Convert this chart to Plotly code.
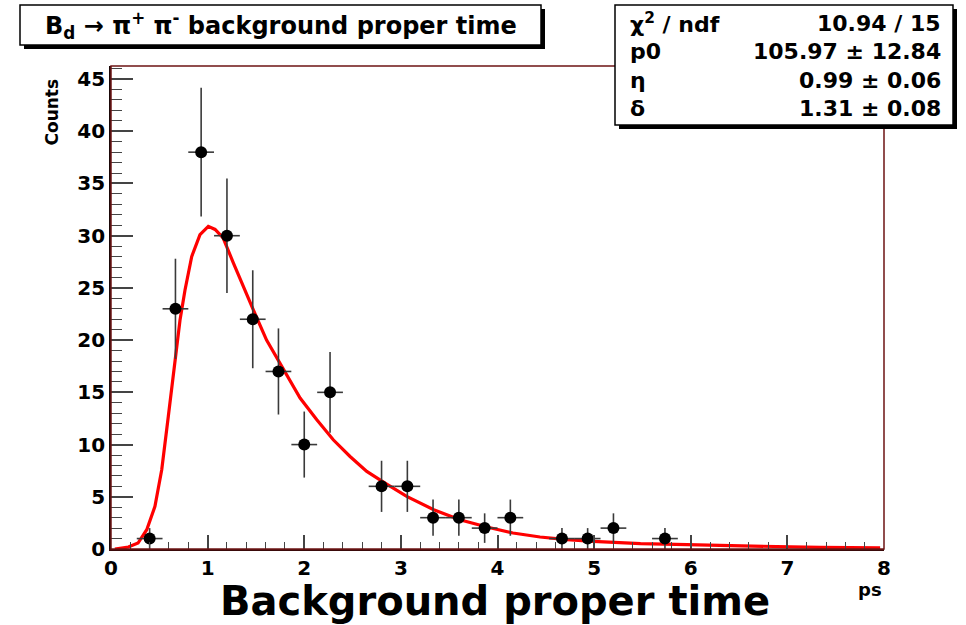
import plotly.graph_objects as go

# ---- data ----
bin_centers = [0.133, 0.400, 0.667, 0.933, 1.200, 1.467, 1.733, 2.000, 2.267, 2.533,
               2.800, 3.067, 3.333, 3.600, 3.867, 4.133, 4.400, 4.667, 4.933, 5.200,
               5.467, 5.733, 6.000, 6.267, 6.533, 6.800, 7.067, 7.333, 7.600, 7.867]
counts = [0, 1, 23, 38, 30, 22, 17, 10, 15, 0,
          6, 6, 3, 3, 2, 3, 0, 1, 1, 2,
          0, 1, 0, 0, 0, 0, 0, 0, 0, 0]
half_bin = 0.1333

fit_x = [0.04, 0.18, 0.28, 0.37, 0.455, 0.525, 0.593, 0.663, 0.714, 0.766, 0.835,
         0.921, 1.007, 1.077, 1.16, 1.266, 1.37, 1.473, 1.61, 1.784, 1.957, 2.13,
         2.30, 2.474, 2.647, 2.82, 2.99, 3.06, 3.34, 3.61, 3.89, 4.16, 4.44, 4.72,
         4.99, 5.27, 5.48, 5.96, 6.65, 7.34, 7.96]
fit_y = [0.0, 0.19, 0.57, 1.85, 4.08, 7.59, 12.69, 18.1, 21.9, 24.8, 28.0,
         30.1, 30.9, 30.6, 29.8, 27.4, 25.1, 22.9, 20.0, 17.2, 14.45, 12.37,
         10.46, 8.86, 7.43, 6.4, 5.4, 5.03, 3.76, 2.80, 2.1, 1.53, 1.15, 0.89,
         0.73, 0.57, 0.51, 0.41, 0.25, 0.15, 0.10]

title_text = "B<sub>d</sub> \u2192 \u03c0<sup>+</sup> \u03c0<sup>-</sup> background proper time"
stat_labels = ["\u03c7<sup>2</sup> / ndf", "p0", "\u03b7", "\u03b4"]
stat_values = ["10.94 / 15", "105.97 \u00b1 12.84", "0.99 \u00b1 0.06", "1.31 \u00b1 0.08"]
x_title = "Background proper time"
x_unit = "ps"
y_title = "Counts"

# ---- layout geometry (pixels) ----
W, H = 966, 625
L, R, T, B = 111, 82, 66, 76
PW, PH = W - L - R, H - T - B


def px(xp):
    return (xp - L) / PW


def py(yp):
    return (H - B - yp) / PH


FONT = "DejaVu Sans"

pts_x = [x for x, c in zip(bin_centers, counts) if c > 0]
pts_y = [c for c in counts if c > 0]
pts_e = [c ** 0.5 for c in pts_y]

fig = go.Figure()
fig.add_trace(go.Scatter(
    x=fit_x, y=fit_y, mode="lines",
    line=dict(color="#ff0000", width=3.2),
    hoverinfo="skip", showlegend=False, cliponaxis=True))
fig.add_trace(go.Scatter(
    x=pts_x, y=pts_y, mode="markers",
    marker=dict(color="black", size=12),
    error_y=dict(type="data", array=pts_e, color="#3a3a3a", thickness=1.6, width=0),
    error_x=dict(type="constant", value=half_bin, color="#3a3a3a", thickness=1.6, width=0),
    showlegend=False))

shapes = []
# frame
shapes.append(dict(type="rect", xref="paper", yref="paper", x0=0, y0=0, x1=1, y1=1,
                   line=dict(color="#6e1414", width=1.5), layer="above"))


def box(x0, y0, x1, y1, sh=4):
    shapes.append(dict(type="rect", xref="paper", yref="paper",
                       x0=px(x0 + sh), x1=px(x1 + sh), y0=py(y1 + sh), y1=py(y0 + sh),
                       line=dict(width=0), fillcolor="black", layer="above"))
    shapes.append(dict(type="rect", xref="paper", yref="paper",
                       x0=px(x0), x1=px(x1), y0=py(y1), y1=py(y0),
                       line=dict(width=1.5, color="black"), fillcolor="white", layer="above"))


box(20, 5, 541, 45)
box(615, 5, 953, 125)

annotations = []
annotations.append(dict(xref="paper", yref="paper", x=px(281), y=py(25), text=title_text,
                        showarrow=False, xanchor="center", yanchor="middle",
                        font=dict(family=FONT, size=24, color="black", weight=700)))
rows_y = [23, 51, 80, 108]
for lab, val, ry in zip(stat_labels, stat_values, rows_y):
    annotations.append(dict(xref="paper", yref="paper", x=px(628), y=py(ry), text=lab,
                            showarrow=False, xanchor="left", yanchor="middle",
                            font=dict(family=FONT, size=22, color="black", weight=700)))
    annotations.append(dict(xref="paper", yref="paper", x=px(943), y=py(ry), text=val,
                            showarrow=False, xanchor="right", yanchor="middle",
                            font=dict(family=FONT, size=22, color="black", weight=700)))
annotations.append(dict(xref="paper", yref="paper", x=px(495), y=py(601), text=x_title,
                        showarrow=False, xanchor="center", yanchor="middle",
                        font=dict(family=FONT, size=40, color="black", weight=700)))
annotations.append(dict(xref="paper", yref="paper", x=px(884), y=py(589), text=x_unit,
                        showarrow=False, xanchor="right", yanchor="middle",
                        font=dict(family=FONT, size=18, color="black", weight=700)))
annotations.append(dict(xref="paper", yref="paper", x=px(51), y=py(77), text=y_title,
                        showarrow=False, xanchor="center", yanchor="top", textangle=-90,
                        font=dict(family=FONT, size=17, color="black", weight=700)))

fig.update_layout(
    width=W, height=H,
    margin=dict(l=L, r=R, t=T, b=B, pad=0),
    paper_bgcolor="white", plot_bgcolor="white",
    shapes=shapes, annotations=annotations,
    xaxis=dict(range=[0, 8], dtick=1, tick0=0, ticks="inside", ticklen=14, tickwidth=1.5,
               tickcolor="#444", showgrid=False, zeroline=False,
               showline=True, linecolor="#3a0a0a", linewidth=1.5,
               tickfont=dict(family=FONT, size=20, color="black", weight=700),
               minor=dict(dtick=0.2, ticks="inside", ticklen=7, tickcolor="#444", tickwidth=1.2,
                          showgrid=False)),
    yaxis=dict(range=[0, 46.25], dtick=5, tick0=0, ticks="inside", ticklen=22, tickwidth=1.5,
               tickcolor="#444", showgrid=False, zeroline=False,
               showline=True, linecolor="#1a0808", linewidth=1.8,
               tickfont=dict(family=FONT, size=20, color="black", weight=700),
               minor=dict(dtick=1, ticks="inside", ticklen=11, tickcolor="#444", tickwidth=1.2,
                          showgrid=False)),
)

fig.write_html("out.html")
